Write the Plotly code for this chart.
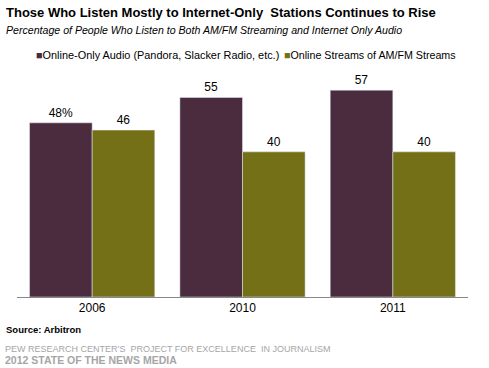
import plotly.graph_objects as go

years = ["2006", "2010", "2011"]
online_only = [48, 55, 57]
am_fm_streams = [46, 40, 40]
online_only_labels = ["48%", "55", "57"]
am_fm_labels = ["46", "40", "40"]
series_names = ["Online-Only Audio (Pandora, Slacker Radio, etc.)", "Online Streams of AM/FM Streams"]
colors = ["#4B2B3E", "#737017"]

FONT = "Liberation Sans, Arial, sans-serif"

fig = go.Figure()
fig.add_trace(go.Bar(x=years, y=online_only, name=series_names[0], marker_color=colors[0],
                     text=online_only_labels, textposition="outside",
                     textfont=dict(size=12, color="#000"), cliponaxis=False))
fig.add_trace(go.Bar(x=years, y=am_fm_streams, name=series_names[1], marker_color=colors[1],
                     text=am_fm_labels, textposition="outside",
                     textfont=dict(size=12, color="#000"), cliponaxis=False))

fig.update_layout(
    width=489, height=368,
    margin=dict(l=17, r=21, t=43, b=71),
    plot_bgcolor="white", paper_bgcolor="white",
    barmode="group", bargap=0.167, bargroupgap=0,
    showlegend=False,
    font=dict(family=FONT, size=12, color="#000"),
    xaxis=dict(showline=True, linecolor="#888888", linewidth=1, ticks="",
               tickfont=dict(size=12, color="#000")),
    yaxis=dict(range=[0, 70], visible=False, showgrid=False),
)

annos = [
    dict(x=4, y=12, text="<b>Those Who Listen Mostly to Internet-Only  Stations Continues to Rise</b>",
         font=dict(size=13, color="#000")),
    dict(x=4, y=30, text="<i>Percentage of People Who Listen to Both AM/FM Streaming and Internet Only Audio</i>",
         font=dict(size=10.6, color="#000")),
    dict(x=34, y=55, text="<span style='color:%s'>■</span>%s" % (colors[0], series_names[0]),
         font=dict(size=10.9, color="#000")),
    dict(x=282, y=55, text="<span style='color:%s'>■</span>%s" % (colors[1], series_names[1]),
         font=dict(size=10.7, color="#000")),
    dict(x=4, y=329, text="<b>Source: Arbitron</b>", font=dict(size=9.5, color="#000")),
    dict(x=3, y=349, text="PEW RESEARCH CENTER\u2019S  PROJECT FOR EXCELLENCE  IN JOURNALISM",
         font=dict(size=9, color="#A6A6A6")),
    dict(x=3, y=360, text="<b>2012 STATE OF THE NEWS MEDIA</b>", font=dict(size=10.5, color="#A6A6A6")),
]
for a in annos:
    fig.add_annotation(xref="paper", yref="paper",
                       x=(a["x"] - 17) / (489 - 17 - 21), y=((368 - a["y"]) - 71) / (368 - 43 - 71),
                       xanchor="left", yanchor="middle", showarrow=False,
                       text=a["text"], font=dict(family=FONT, **a["font"]))

fig.write_html("out.html", config={"displayModeBar": False},
               post_script="document.body.style.margin='0';document.body.style.overflow='hidden';")
